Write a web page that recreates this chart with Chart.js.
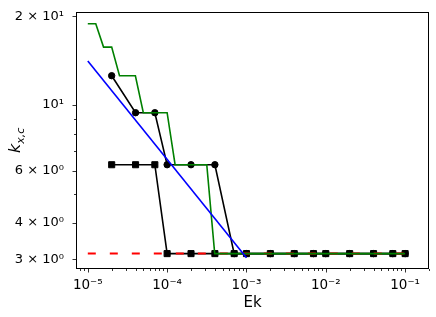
<!DOCTYPE html>
<html lang="en">
<head>
  <meta charset="UTF-8" />
  <title>Critical wavenumber vs Ek</title>
  <script src="https://cdn.jsdelivr.net/npm/chart.js"></script>
  <style>
    html, body { margin: 0; padding: 0; background: #fff; }
    #kChart { display: block; }
  </style>
</head>
<body>
  <canvas id="kChart" width="436" height="317"></canvas>

  <script>
    // sampled Ek values shared by the two marker series
    const ekSamples = [2e-5, 4e-5, 7e-5, 1e-4, 2e-4, 4e-4, 7e-4, 1e-3, 2e-3, 4e-3, 7e-3, 1e-2, 2e-2, 4e-2, 7e-2, 1e-1];
    const kCircles = [12.57, 9.42, 9.42, 6.28, 6.28, 6.28, 3.14, 3.14, 3.14, 3.14, 3.14, 3.14, 3.14, 3.14, 3.14, 3.14];
    const kSquares = [6.28, 6.28, 6.28, 3.14, 3.14, 3.14, 3.14, 3.14, 3.14, 3.14, 3.14, 3.14, 3.14, 3.14, 3.14, 3.14];

    // green staircase
    const greenEk = [1e-5, 1.26e-5, 1.58e-5, 2e-5, 2.51e-5, 3.98e-5, 5.01e-5, 1e-4, 1.26e-4, 3.16e-4, 3.98e-4, 1e-1];
    const greenK = [18.85, 18.85, 15.71, 15.71, 12.57, 12.57, 9.42, 9.42, 6.28, 6.28, 3.14, 3.14];

    // blue power law and red reference level
    const fitEk = [1e-5, 1e-3];
    const fitK = [14.1, 3.04];
    const refEk = [1e-5, 1e-1];
    const refK = [3.14, 3.14];

    const xTickValues = [1e-5, 1e-4, 1e-3, 1e-2, 1e-1];
    const xTickLabels = ['10⁻⁵', '10⁻⁴', '10⁻³', '10⁻²', '10⁻¹'];
    const yTickValues = [3, 4, 6, 10, 20];
    const yTickLabels = ['3 × 10⁰', '4 × 10⁰', '6 × 10⁰', '10¹', '2 × 10¹'];

    const FONT = "'DejaVu Sans', sans-serif";

    function pairs(xs, ys) {
      return xs.map((x, i) => ({ x: x, y: ys[i] }));
    }

    // 1..9 x 10^n inside the axis range, like matplotlib log minor ticks
    function logTicks(axis) {
      const ticks = [];
      const lo = Math.floor(Math.log10(axis.min));
      const hi = Math.ceil(Math.log10(axis.max));
      for (let e = lo; e <= hi; e++) {
        for (let m = 1; m <= 9; m++) {
          const v = parseFloat((m * Math.pow(10, e)).toPrecision(6));
          if (v >= axis.min && v <= axis.max) ticks.push({ value: v });
        }
      }
      axis.ticks = ticks;
    }

    function labelFor(values, labels) {
      return function (value) {
        for (let i = 0; i < values.length; i++) {
          if (Math.abs(value / values[i] - 1) < 1e-6) return labels[i];
        }
        return '';
      };
    }

    function isMajor(values, value) {
      return values.some(v => Math.abs(value / v - 1) < 1e-6);
    }

    // box around the axes plus outward tick marks (long on labelled ticks)
    const framePlugin = {
      id: 'frame',
      afterDatasetsDraw(chart) {
        const ctx = chart.ctx;
        const a = chart.chartArea;
        const xs = chart.scales.x, ys = chart.scales.y;
        ctx.save();
        ctx.strokeStyle = '#000';
        ctx.lineWidth = 1;
        ctx.strokeRect(Math.round(a.left) + 0.5, Math.round(a.top) + 0.5,
          Math.round(a.right - a.left) - 1, Math.round(a.bottom - a.top) - 1);
        ctx.lineWidth = 0.8;
        ctx.beginPath();
        xs.ticks.forEach(t => {
          const px = Math.round(xs.getPixelForValue(t.value)) + 0.5;
          const len = isMajor(xTickValues, t.value) ? 3.5 : 2;
          ctx.moveTo(px, a.bottom);
          ctx.lineTo(px, a.bottom + len);
        });
        ys.ticks.forEach(t => {
          const py = Math.round(ys.getPixelForValue(t.value)) + 0.5;
          const len = isMajor(yTickValues, t.value) ? 3.5 : 2;
          ctx.moveTo(a.left, py);
          ctx.lineTo(a.left - len, py);
        });
        ctx.stroke();
        ctx.restore();
      },
      afterDraw(chart) {
        // y label k_{x,c}, rotated
        const ctx = chart.ctx;
        const a = chart.chartArea;
        ctx.save();
        ctx.fillStyle = '#000';
        ctx.textBaseline = 'alphabetic';
        ctx.font = 'oblique 16px ' + FONT;
        const wk = ctx.measureText('k').width;
        ctx.font = 'oblique 11px ' + FONT;
        const ws = ctx.measureText('x,c').width;
        ctx.translate(20, (a.top + a.bottom) / 2);
        ctx.rotate(-Math.PI / 2);
        const start = -(wk + ws) / 2;
        ctx.font = 'oblique 16px ' + FONT;
        ctx.fillText('k', start, 0);
        ctx.font = 'oblique 11px ' + FONT;
        ctx.fillText('x,c', start + wk, 3.5);
        ctx.restore();
      }
    };

    new Chart(document.getElementById('kChart'), {
      type: 'line',
      data: {
        datasets: [
          {
            data: pairs(fitEk, fitK),
            borderColor: '#0000ff', borderWidth: 1.6, pointRadius: 0
          },
          {
            data: pairs(greenEk, greenK),
            borderColor: '#008000', borderWidth: 1.6, pointRadius: 0
          },
          {
            data: pairs(refEk, refK),
            borderColor: '#ff0000', borderWidth: 2, borderDash: [8, 14], pointRadius: 0
          },
          {
            data: pairs(ekSamples, kSquares),
            borderColor: '#000', borderWidth: 1.6,
            pointStyle: 'rect', pointRadius: 4.3,
            pointBackgroundColor: '#000', pointBorderColor: '#000', pointBorderWidth: 1
          },
          {
            data: pairs(ekSamples, kCircles),
            borderColor: '#000', borderWidth: 1.6,
            pointStyle: 'circle', pointRadius: 3.2,
            pointBackgroundColor: '#000', pointBorderColor: '#000', pointBorderWidth: 1
          }
        ]
      },
      options: {
        responsive: false,
        animation: false,
        layout: { padding: { top: 7, right: 7, left: 0, bottom: 0 } },
        plugins: { legend: { display: false }, tooltip: { enabled: false } },
        elements: { line: { tension: 0 } },
        scales: {
          x: {
            type: 'logarithmic',
            min: 7.1e-6,
            max: 0.2,
            grid: { display: false },
            border: { display: false },
            afterBuildTicks: logTicks,
            afterFit(axis) { axis.height = 48; },
            ticks: {
              autoSkip: false, maxRotation: 0, padding: 0,
              color: '#000', font: { family: FONT, size: 13.5 },
              callback: labelFor(xTickValues, xTickLabels)
            },
            title: {
              display: true, text: 'Ek', color: '#000',
              font: { family: FONT, size: 15 },
              padding: { top: 0, bottom: 4.5 }
            }
          },
          y: {
            type: 'logarithmic',
            min: 2.785,
            max: 20.69,
            grid: { display: false },
            border: { display: false },
            afterBuildTicks: logTicks,
            afterFit(axis) { axis.width = 76; },
            ticks: {
              autoSkip: false, padding: 4,
              color: '#000', font: { family: FONT, size: 13 },
              callback: labelFor(yTickValues, yTickLabels)
            }
          }
        }
      },
      plugins: [framePlugin]
    });
  </script>
</body>
</html>
